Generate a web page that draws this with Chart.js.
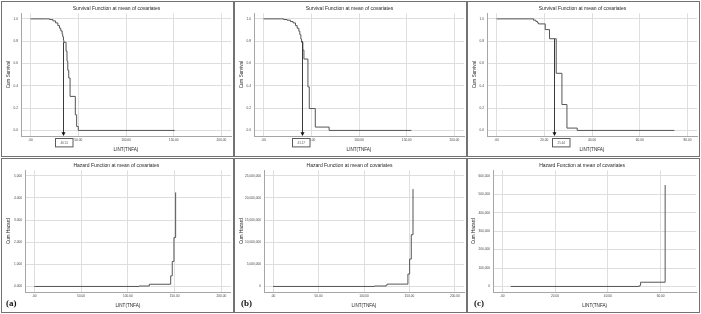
<!DOCTYPE html>
<html>
<head>
<meta charset="utf-8">
<script src="https://cdn.jsdelivr.net/npm/chart.js@4.4.1/dist/chart.umd.min.js"></script>
<style>
  body { margin: 0; background: #fff; width: 701px; height: 314px; overflow: hidden; position: relative; }
  .panel { position: absolute; box-sizing: border-box; border: 1px solid #727272; background: #fff; }
  .panel canvas { display: block; }
  .tag { position: absolute; font: bold 9px "Liberation Serif", serif; line-height: 9px; color: #111; }
</style>
</head>
<body>
<div class="panel" style="left:1px;top:1px;width:233px;height:156px"><canvas id="survA" width="231" height="154"></canvas></div>
<div class="panel" style="left:234px;top:1px;width:233px;height:156px"><canvas id="survB" width="231" height="154"></canvas></div>
<div class="panel" style="left:467px;top:1px;width:233px;height:156px"><canvas id="survC" width="231" height="154"></canvas></div>
<div class="panel" style="left:1px;top:158px;width:233px;height:155px"><canvas id="hazA" width="231" height="153"></canvas></div>
<div class="panel" style="left:234px;top:158px;width:233px;height:155px"><canvas id="hazB" width="231" height="153"></canvas></div>
<div class="panel" style="left:467px;top:158px;width:233px;height:155px"><canvas id="hazC" width="231" height="153"></canvas></div>
<span class="tag" style="left:6px;top:299px">(a)</span>
<span class="tag" style="left:241px;top:299px">(b)</span>
<span class="tag" style="left:474px;top:299px">(c)</span>

<script>
// ---- data ----
const survTitle = 'Survival Function at mean of covariates';
const hazTitle = 'Hazard Function at mean of covariates';
const xName = 'LINT(TNFA)';

// survival curves (time, cumulative survival)
const survATime  = [0, 16.6, 20, 23.4, 26.2, 28.6, 30.3, 31.7, 33.1, 33.8, 34.5, 34.9, 37.2, 38.2, 39.0, 40.0, 41.4, 46.9, 48.3, 50.0, 151.1];
const survAValue = [1.0, 1.0, 0.994, 0.982, 0.964, 0.94, 0.916, 0.892, 0.862, 0.838, 0.808, 0.79, 0.71, 0.62, 0.54, 0.47, 0.305, 0.14, 0.036, 0.0, 0.0];
const survBTime  = [0, 17.6, 21.1, 24.6, 28.2, 31, 33.5, 35.2, 37, 38, 39.1, 39.8, 41.2, 42.3, 46.5, 47.9, 54.2, 68.7, 154.9];
const survBValue = [1, 1, 0.994, 0.988, 0.976, 0.964, 0.94, 0.916, 0.889, 0.858, 0.819, 0.79, 0.72, 0.64, 0.39, 0.196, 0.03, 0.0, 0.0];
const survCTime  = [0, 14.1, 15.5, 16.5, 17.2, 17.6, 20.4, 22.2, 25.0, 27.4, 29.5, 33.8, 74.5];
const survCValue = [1, 1, 0.988, 0.976, 0.964, 0.955, 0.904, 0.822, 0.512, 0.232, 0.021, 0, 0];

// cumulative hazard curves
const hazATime  = [0, 112, 123, 145.8, 147.5, 149.3, 151.1];
const hazAValue = [0, 0.02, 0.1, 0.48, 1.13, 2.21, 4.25];
const hazBTime  = [0, 111.4, 124.4, 125.5, 148.3, 150.2, 152, 153.9];
const hazBValue = [0, 100000, 300000, 530000, 2800000, 6200000, 11700000, 22000000];
const hazCTime  = [3.2, 51.5, 52.2, 52.4, 61.7];
const hazCValue = [0, 2000, 7000, 23000, 550000];

// arrow markers on the survival plots
const markTime  = [33.8, 39.8, 23.9];
const markFrom  = [0.79, 0.80, 0.82];
const markLabel = ['46.51', '41.17', '25.44'];

// ticks
const xTicksWide  = [0, 50, 100, 150, 200];
const xLabelsWide = ['.00', '50.00', '100.00', '150.00', '200.00'];
const xTicksC     = [0, 20, 40, 60, 80];
const xLabelsC    = ['.00', '20.00', '40.00', '60.00', '80.00'];
const survTicks   = [0, 0.2, 0.4, 0.6, 0.8, 1.0];
const survLabels  = ['0.0', '0.2', '0.4', '0.6', '0.8', '1.0'];
const hazATicks   = [0, 1, 2, 3, 4, 5];
const hazALabels  = ['0.000', '1.000', '2.000', '3.000', '4.000', '5.000'];
const hazBTicks   = [0, 5e6, 10e6, 15e6, 20e6, 25e6];
const hazBLabels  = ['0', '5,000,000', '10,000,000', '15,000,000', '20,000,000', '25,000,000'];
const hazCTicks   = [0, 1e5, 2e5, 3e5, 4e5, 5e5, 6e5];
const hazCLabels  = ['0', '100,000', '200,000', '300,000', '400,000', '500,000', '600,000'];

// ---- drawing ----
const FONT = '"Liberation Sans", Arial, sans-serif';
const TITLE_SIZE = 5, AXIS_SIZE = 4.6, TICK_SIZE = 3.2;

const markPlugin = {
  id: 'mark',
  afterDatasetsDraw(chart, args, o) {
    if (!o || o.label === undefined) return;
    const ctx = chart.ctx, area = chart.chartArea;
    const px = Math.round(chart.scales.x.getPixelForValue(o.x)) + 0.5;
    const py = chart.scales.y.getPixelForValue(o.from);
    const bottom = area.bottom;
    ctx.save();
    ctx.strokeStyle = '#3a3a3a';
    ctx.lineWidth = 1;
    ctx.beginPath();
    ctx.moveTo(px, py);
    ctx.lineTo(px, bottom - 3);
    ctx.stroke();
    ctx.fillStyle = '#111';
    ctx.beginPath();
    ctx.moveTo(px - 2, bottom - 3.8);
    ctx.lineTo(px + 2, bottom - 3.8);
    ctx.lineTo(px, bottom);
    ctx.closePath();
    ctx.fill();
    const bw = 17.5, bh = 8.4;
    const bx = Math.round(px + o.shift - bw / 2) + 0.5, by = Math.round(bottom + 2.3) + 0.5;
    ctx.fillStyle = '#fff';
    ctx.fillRect(bx, by, bw, bh);
    ctx.strokeStyle = '#5a5a5a';
    ctx.strokeRect(bx, by, bw, bh);
    ctx.fillStyle = '#555';
    ctx.font = '3px ' + FONT;
    ctx.textAlign = 'center';
    ctx.textBaseline = 'middle';
    ctx.fillText(o.label, bx + bw / 2, by + bh / 2);
    ctx.restore();
  }
};

function drawPanel(id, p) {
  const canvas = document.getElementById(id);
  const W = canvas.width, H = canvas.height;
  const lh = AXIS_SIZE * 1.2;
  const noPad = s => { s.paddingLeft = 0; s.paddingRight = 0; s.paddingTop = 0; s.paddingBottom = 0; };
  new Chart(canvas, {
    type: 'line',
    data: {
      datasets: [{
        data: p.time.map((t, i) => ({ x: t, y: p.value[i] })),
        stepped: true,
        borderColor: '#555',
        borderWidth: 1,
        pointRadius: 0,
        fill: false
      }]
    },
    options: {
      responsive: false,
      animation: false,
      devicePixelRatio: 1,
      layout: { padding: { left: 0, top: 0, right: W - p.area.r, bottom: 0 } },
      plugins: {
        legend: { display: false },
        tooltip: { enabled: false },
        title: {
          display: true, text: p.title, color: '#262626',
          font: { family: FONT, size: TITLE_SIZE, weight: 'normal' },
          padding: { top: 4, bottom: p.area.t - 4 - TITLE_SIZE * 1.2 }
        },
        mark: p.mark || false
      },
      scales: {
        x: {
          type: 'linear', min: p.xMin, max: p.xMax,
          afterBuildTicks: s => { s.ticks = p.xTicks.map(v => ({ value: v })); },
          afterFit: s => { s.height = H - p.area.b; noPad(s); },
          ticks: {
            autoSkip: false, maxRotation: 0, minRotation: 0, padding: 2,
            color: '#444', font: { family: FONT, size: TICK_SIZE },
            callback: (v, i) => p.xLabels[i]
          },
          grid: { color: '#dedede', lineWidth: 1, drawTicks: false },
          border: { display: true, color: '#a6a6a6', width: 1 },
          title: {
            display: true, text: xName, color: '#262626',
            font: { family: FONT, size: AXIS_SIZE },
            padding: { top: 0, bottom: H - p.xTitleY - lh / 2 }
          }
        },
        y: {
          type: 'linear', min: p.yMin, max: p.yMax,
          afterBuildTicks: s => { s.ticks = p.yTicks.map(v => ({ value: v })); },
          afterFit: s => { s.width = p.area.l; noPad(s); },
          ticks: {
            autoSkip: false, padding: 3,
            color: '#444', font: { family: FONT, size: TICK_SIZE },
            callback: (v, i) => p.yLabels[i]
          },
          grid: { color: '#dedede', lineWidth: 1, drawTicks: false },
          border: { display: true, color: '#a6a6a6', width: 1 },
          title: {
            display: true, text: p.yName, color: '#262626',
            font: { family: FONT, size: AXIS_SIZE },
            padding: { top: p.yTitleX - lh / 2, bottom: 0 }
          }
        }
      }
    },
    plugins: [markPlugin]
  });
}

const topArea = { l: 19, t: 11.3, r: 229, b: 134 };

drawPanel('survA', {
  title: survTitle, yName: 'Cum Survival', time: survATime, value: survAValue,
  xMin: -10, xMax: 210, xTicks: xTicksWide, xLabels: xLabelsWide,
  yMin: -0.05, yMax: 1.05, yTicks: survTicks, yLabels: survLabels,
  area: topArea, xTitleY: 148, yTitleX: 7,
  mark: { x: markTime[0], from: markFrom[0], label: markLabel[0], shift: 0.5 }
});
drawPanel('survB', {
  title: survTitle, yName: 'Cum Survival', time: survBTime, value: survBValue,
  xMin: -10, xMax: 210, xTicks: xTicksWide, xLabels: xLabelsWide,
  yMin: -0.05, yMax: 1.05, yTicks: survTicks, yLabels: survLabels,
  area: topArea, xTitleY: 148, yTitleX: 6.5,
  mark: { x: markTime[1], from: markFrom[1], label: markLabel[1], shift: -1.5 }
});
drawPanel('survC', {
  title: survTitle, yName: 'Cum Survival', time: survCTime, value: survCValue,
  xMin: -4, xMax: 84, xTicks: xTicksC, xLabels: xLabelsC,
  yMin: -0.05, yMax: 1.05, yTicks: survTicks, yLabels: survLabels,
  area: topArea, xTitleY: 148, yTitleX: 6.5,
  mark: { x: markTime[2], from: markFrom[2], label: markLabel[2], shift: 6 }
});
drawPanel('hazA', {
  title: hazTitle, yName: 'Cum Hazard', time: hazATime, value: hazAValue,
  xMin: -10, xMax: 210, xTicks: xTicksWide, xLabels: xLabelsWide,
  yMin: -0.25, yMax: 5.25, yTicks: hazATicks, yLabels: hazALabels,
  area: { l: 23, t: 11.3, r: 228.7, b: 133 }, xTitleY: 146.3, yTitleX: 7
});
drawPanel('hazB', {
  title: hazTitle, yName: 'Cum Hazard', time: hazBTime, value: hazBValue,
  xMin: -10, xMax: 210, xTicks: xTicksWide, xLabels: xLabelsWide,
  yMin: -1.25e6, yMax: 26.25e6, yTicks: hazBTicks, yLabels: hazBLabels,
  area: { l: 29, t: 11.3, r: 229, b: 133 }, xTitleY: 146.3, yTitleX: 6.3
});
drawPanel('hazC', {
  title: hazTitle, yName: 'Cum Hazard', time: hazCTime, value: hazCValue,
  xMin: -3.5, xMax: 73.5, xTicks: xTicksC.slice(0, 4), xLabels: xLabelsC.slice(0, 4),
  yMin: -30000, yMax: 630000, yTicks: hazCTicks, yLabels: hazCLabels,
  area: { l: 25, t: 11.3, r: 228.3, b: 133 }, xTitleY: 146.3, yTitleX: 5.7
});
</script>
</body>
</html>
